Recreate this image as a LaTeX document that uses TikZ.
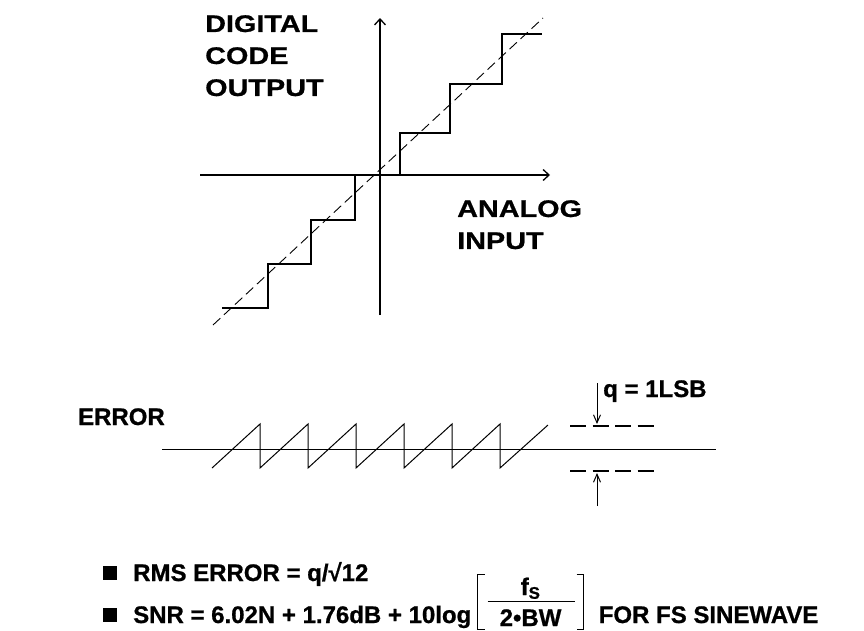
\documentclass[tikz,border=0pt]{standalone}
\usepackage{fontspec}
\setmainfont{Liberation Sans}[BoldFeatures={FakeBold=0.8}]
\newfontfamily\widefont{Liberation Sans}[FakeStretch=1.2, BoldFeatures={FakeBold=0.8}]
\usetikzlibrary{arrows.meta,positioning}

\begin{document}
\begin{tikzpicture}[x=1pt,y=-1pt,
    lbl/.style={font=\fontsize{24}{32}\selectfont\bfseries, inner sep=0pt, align=left},
    axlbl/.style={font=\widefont\fontsize{24}{32}\selectfont\bfseries, inner sep=0pt, align=left},
    axis/.style={line width=1.3pt, -{Straight Barb[length=6pt,width=11pt]}},
    stair/.style={line width=1.4pt},
    ideal/.style={line width=0.9pt, dash pattern=on 10pt off 5pt},
    saw/.style={line width=1pt},
    level/.style={line width=2pt, dash pattern=on 16pt off 6.5pt},
    qarr/.style={line width=1pt, -{Straight Barb[length=8pt,width=7pt]}},
    bullet/.style={fill=black, minimum size=14pt, inner sep=0pt},
]
\useasboundingbox (0,0) rectangle (864,630);

% transfer function
\coordinate (ybot) at (380,315);
\coordinate (ytop) at (380,18);
\coordinate (xleft) at (200,175);
\coordinate (xright) at (550,175);
\draw[axis] (ybot) -- (ytop);
\draw[axis] (xleft) -- (xright);
\draw[ideal] (213,325) -- (543,18);
\draw[stair] (222,308) -- (268,308) -- (268,264) -- (311,264) -- (311,220)
    -- (355,220) -- (355,175) -- (400,175) -- (400,133) -- (450,133)
    -- (450,84) -- (502,84) -- (502,34) -- (542,34);
\node[axlbl, anchor=north west] (ylabel) at (205,15) {DIGITAL\\CODE\\OUTPUT};
\node[axlbl, anchor=north west] (xlabel) at (457,200) {ANALOG\\INPUT};

% quantization error
\node[lbl, anchor=base east] (err) at (165,425) {ERROR};
\coordinate (e0) at (162,449);
\coordinate (e1) at (716,449);
\draw[saw] (e0) -- (e1);
\draw[saw] (212,468) \foreach \i in {1,...,6} { -- ++(48,-44) -- ++(0,44) } -- ++(48,-43);
\draw[level] (570,426) -- (654,426);
\draw[level] (570,471) -- (654,471);
\node[lbl, anchor=base west] (q) at (603,397) {q = 1LSB};
\coordinate (qt) at (597,383);
\coordinate (qb) at (597,506);
\draw[qarr] (qt) -- (597,424);
\draw[qarr] (qb) -- (597,473);

% formulas
\node[lbl, anchor=base west] (rms) at (133,581) {RMS ERROR = q/√12};
\node[bullet] (b1) at (110,573) {};
\node[lbl, anchor=base west] (snr) at (133,623) {SNR = 6.02N + 1.76dB + 10log};
\node[bullet] (b2) at (110,615) {};
\coordinate (bl) at ([xshift=6pt]snr.base east);
\draw[saw] ([shift={(7,-49)}]bl) -- ([shift={(0,-49)}]bl) -- ([shift={(0,6)}]bl) -- ([shift={(7,6)}]bl);
\draw[saw] ([shift={(99,-49)}]bl) -- ([shift={(106,-49)}]bl) -- ([shift={(106,6)}]bl) -- ([shift={(99,6)}]bl);
\draw[saw] ([shift={(10,-22)}]bl) -- ([shift={(97,-22)}]bl);
\node[lbl, anchor=base] (num) at ([shift={(53,-28)}]bl) {f\textsubscript{S}};
\node[lbl, anchor=base] (den) at ([shift={(53,3)}]bl) {2•BW};
\node[lbl, anchor=base west] (fsw) at ([shift={(121,0)}]bl) {FOR FS SINEWAVE};
\end{tikzpicture}
\end{document}
